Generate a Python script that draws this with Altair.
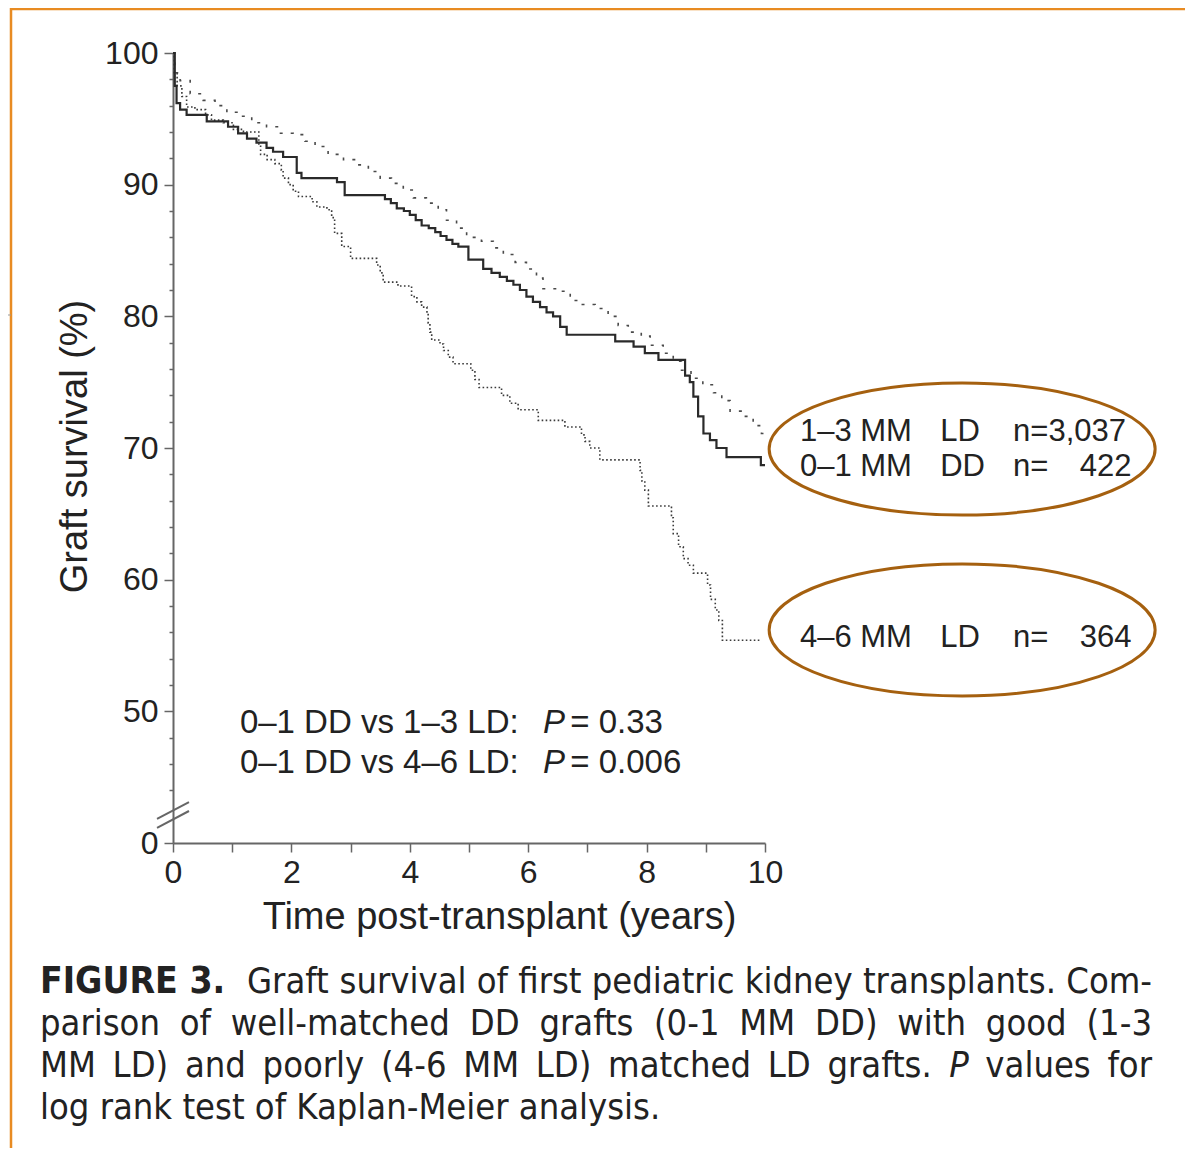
import altair as alt
import pandas as pd

# ---------------- data ----------------
# 0-1 MM DD (solid)
dd01_t = [0, 0.03, 0.06, 0.12, 0.23, 0.57, 0.93, 1.10, 1.25, 1.41,
          1.58, 1.69, 1.86, 2.09, 2.17, 2.77, 2.90, 3.58, 3.68, 3.78,
          3.90, 4.00, 4.10, 4.20, 4.32, 4.43, 4.52, 4.62, 4.72, 4.82,
          4.99, 5.24, 5.38, 5.52, 5.64, 5.75, 5.86, 5.97, 6.08, 6.20,
          6.31, 6.42, 6.54, 6.65, 7.47, 7.78, 7.97, 8.20, 8.65, 8.73,
          8.79, 8.87, 8.96, 9.07, 9.18, 9.35, 9.93, 10.0]
dd01_s = [100, 97.5, 96.2, 95.7, 95.3, 94.8, 94.4, 93.9, 93.5, 93.2,
          92.8, 92.5, 92.1, 90.9, 90.5, 90.2, 89.2, 88.9, 88.6, 88.2,
          88.0, 87.7, 87.3, 86.9, 86.7, 86.4, 86.1, 85.8, 85.5, 85.3,
          84.3, 83.6, 83.3, 83.0, 82.7, 82.4, 82.0, 81.5, 81.1, 80.7,
          80.3, 80.0, 79.2, 78.6, 78.1, 77.7, 77.2, 76.7, 75.5, 75.0,
          73.9, 72.4, 71.1, 70.6, 70.0, 69.3, 68.7, 68.7]

# 1-3 MM LD (sparse dashes)
ld13_t = [0, 0.03, 0.12, 0.29, 0.51, 0.71, 0.91, 1.13, 1.33, 1.58,
          1.78, 2.03, 2.23, 2.40, 2.62, 2.88, 3.10, 3.30, 3.50, 3.69,
          3.89, 4.06, 4.28, 4.48, 4.62, 4.79, 4.96, 5.21, 5.41, 5.58,
          5.78, 5.97, 6.14, 6.25, 6.51, 6.71, 6.90, 7.13, 7.35, 7.52,
          7.69, 7.91, 8.06, 8.28, 8.45, 8.59, 8.75, 8.95, 9.13, 9.27,
          9.41, 9.61, 9.80, 9.94, 10.0]
ld13_s = [100, 98.5, 97.9, 96.9, 96.4, 96.0, 95.5, 95.2, 94.7, 94.4,
          93.9, 93.8, 93.3, 92.9, 92.3, 91.9, 91.5, 91.0, 90.5, 90.1,
          89.6, 89.0, 88.6, 88.1, 87.3, 86.7, 86.0, 85.7, 85.2, 84.7,
          84.1, 83.6, 82.9, 82.1, 81.9, 81.2, 80.9, 80.6, 80.0, 79.3,
          78.8, 78.5, 77.8, 77.2, 76.6, 75.9, 75.3, 74.8, 74.2, 73.6,
          72.8, 72.4, 71.7, 71.1, 70.8]

# 4-6 MM LD (dense dots)
ld46_t = [0, 0.02, 0.07, 0.15, 0.23, 0.37, 0.55, 0.65, 0.85, 1.02,
          1.19, 1.45, 1.48, 1.59, 1.72, 1.83, 1.86, 1.95, 2.03, 2.12,
          2.35, 2.43, 2.60, 2.68, 2.73, 2.85, 3.00, 3.44, 3.50, 3.55,
          3.80, 4.03, 4.12, 4.20, 4.29, 4.31, 4.34, 4.37, 4.51, 4.57,
          4.65, 4.73, 5.03, 5.10, 5.17, 5.55, 5.69, 5.83, 6.17, 6.62,
          6.90, 6.96, 7.04, 7.21, 7.89, 7.92, 7.97, 8.03, 8.42, 8.45,
          8.54, 8.62, 8.70, 8.79, 9.03, 9.08, 9.16, 9.22, 9.28, 9.94]
ld46_s = [100, 98.5, 97.5, 96.7, 95.9, 95.7, 95.3, 94.9, 94.7, 94.2,
          94.0, 93.0, 92.3, 91.9, 91.6, 91.1, 90.5, 90.0, 89.5, 89.1,
          88.7, 88.3, 88.1, 87.5, 86.3, 85.3, 84.4, 83.9, 83.3, 82.6,
          82.3, 81.5, 81.1, 80.7, 80.2, 79.5, 78.8, 78.2, 77.9, 77.4,
          76.9, 76.4, 75.9, 75.2, 74.6, 74.0, 73.4, 72.9, 72.1, 71.6,
          71.0, 70.5, 70.0, 69.1, 68.3, 67.5, 66.8, 65.6, 64.7, 63.5,
          62.5, 61.6, 61.1, 60.5, 59.6, 58.5, 57.7, 56.9, 55.4, 55.4]

legend_group = ["1–3 MM", "0–1 MM", "4–6 MM"]
legend_type = ["LD", "DD", "LD"]
legend_n = ["3,037", "422", "364"]

pval_labels = ["0–1 DD vs 1–3 LD:", "0–1 DD vs 4–6 LD:"]
pval_values = ["= 0.33", "= 0.006"]

x_ticks = list(range(0, 11))
y_ticks = [40, 44, 46, 48, 50, 52, 54, 56, 58, 60, 62, 64, 66, 68, 70,
           72, 74, 76, 78, 80, 82, 84, 86, 88, 90, 92, 94, 96, 98, 100]

caption_line1 = "Graft survival of first pediatric kidney transplants. Com-"
caption_line2 = "parison of well-matched DD grafts (0-1 MM DD) with good (1-3"
caption_line3 = "MM LD) and poorly (4-6 MM LD) matched LD grafts. P values for"
caption_line4 = "log rank test of Kaplan-Meier analysis."
caption_fig = "FIGURE 3."

# ---------------- styling ----------------
FONT = "Liberation Sans"
CAPFONT = "DejaVu Sans Condensed"
INK = "#222222"
AXC = "#666666"
BROWN = "#A5600F"
ORANGE = "#E88B22"

xscale = alt.Scale(domain=[0, 10], nice=False, zero=False)
yscale = alt.Scale(domain=[40, 100], nice=False, zero=False)

X = alt.X("t:Q", scale=xscale, title="Time post-transplant (years)",
          axis=alt.Axis(values=x_ticks,
                        labelExpr="datum.value % 2 === 0 ? datum.label : ''",
                        tickSize=9, tickWidth=1.5, tickColor=AXC,
                        domainColor=AXC, domainWidth=2, grid=False,
                        labelFont=FONT, labelFontSize=32, labelColor=INK,
                        labelPadding=5, labelFlush=False,
                        titleFont=FONT, titleFontSize=38, titleFontWeight="normal",
                        titleColor=INK, titleX=326, titleY=74,
                        titleBaseline="middle", titleAlign="center"))
Y = alt.Y("s:Q", scale=yscale, title="Graft survival (%)",
          axis=alt.Axis(values=y_ticks,
                        labelExpr="datum.value % 10 === 0 ? (datum.value === 40 ? '0' : datum.label) : ''",
                        tickSize={"condition": {"test": "datum.value % 10 === 0", "value": 9}, "value": 4},
                        tickWidth=1.5, tickColor=AXC,
                        domainColor=AXC, domainWidth=2, grid=False,
                        labelFont=FONT, labelFontSize=32, labelColor=INK,
                        labelPadding=6, labelFlush=False,
                        titleFont=FONT, titleFontSize=38, titleFontWeight="normal",
                        titleColor=INK, titleX=-79, titleY=393,
                        titleBaseline="bottom", titleAlign="center"))

def curve(ts, ss, dash, width, color):
    df = pd.DataFrame({"t": ts, "s": ss})
    kw = dict(interpolate="step-after", strokeWidth=width, color=color)
    if dash:
        kw["strokeDash"] = dash
    return alt.Chart(df).mark_line(**kw).encode(x=X, y=Y)

c_dd01 = curve(dd01_t, dd01_s, None, 2.2, "#2a2a2a")
c_ld13 = curve(ld13_t, ld13_s, [3, 8], 1.6, "#4a4a4a")
c_ld46 = curve(ld46_t, ld46_s, [1.6, 2.4], 1.6, "#3a3a3a")

# axis-break marks (in data coords)
brk = pd.DataFrame({"t": [-0.27, -0.27], "s": [41.83, 41.14],
                    "t2": [0.27, 0.27], "s2": [43.11, 42.43]})
c_brk = alt.Chart(brk).mark_rule(color=AXC, strokeWidth=2).encode(
    x=X, y=Y, x2="t2:Q", y2="s2:Q")

# p-value annotation
pv_y = [49.1, 46.1]
pv_df = pd.DataFrame({"t": [1.13, 1.13], "s": pv_y, "txt": pval_labels})
pvP_df = pd.DataFrame({"t": [6.25, 6.25], "s": pv_y, "txt": ["P", "P"]})
pvV_df = pd.DataFrame({"t": [6.71, 6.71], "s": pv_y, "txt": pval_values})
tk = dict(baseline="middle", font=FONT, fontSize=33, color=INK)
c_pv = alt.Chart(pv_df).mark_text(align="left", **tk).encode(x=X, y=Y, text="txt:N")
c_pvP = alt.Chart(pvP_df).mark_text(align="left", fontStyle="italic", **tk).encode(x=X, y=Y, text="txt:N")
c_pvV = alt.Chart(pvV_df).mark_text(align="left", **tk).encode(x=X, y=Y, text="txt:N")

# legend labels inside ellipses
tl = dict(baseline="middle", font=FONT, fontSize=31, color=INK)
leg_y = [71.22, 68.56, 55.57]
lg1 = pd.DataFrame({"t": [10.59] * 3, "s": leg_y, "txt": legend_group})
lg2 = pd.DataFrame({"t": [12.96] * 3, "s": leg_y, "txt": legend_type})
# first row: "n=3,037" written tight; other rows: "n=" then right-aligned count
lg3 = pd.DataFrame({"t": [14.19] * 3, "s": leg_y,
                    "txt": ["n=" + legend_n[0], "n=", "n="]})
lg4 = pd.DataFrame({"t": [16.19] * 2, "s": leg_y[1:], "txt": legend_n[1:]})
c_lg1 = alt.Chart(lg1).mark_text(align="left", **tl).encode(x=X, y=Y, text="txt:N")
c_lg2 = alt.Chart(lg2).mark_text(align="left", **tl).encode(x=X, y=Y, text="txt:N")
c_lg3 = alt.Chart(lg3).mark_text(align="left", **tl).encode(x=X, y=Y, text="txt:N")
c_lg4 = alt.Chart(lg4).mark_text(align="right", **tl).encode(x=X, y=Y, text="txt:N")

# ellipses around legend labels
ELLIPSE = "M -1 0 A 1 0.342 0 1 1 1 0 A 1 0.342 0 1 1 -1 0 Z"
ell = pd.DataFrame({"t": [13.33, 13.33], "s": [69.92, 56.18]})
c_ell = alt.Chart(ell).mark_point(shape=ELLIPSE, size=386 * 386, filled=False,
                                  strokeWidth=3, color=BROWN, opacity=1).encode(x=X, y=Y)

# page frame (pixel offsets relative to plot origin)
one = pd.DataFrame({"a": [0]})
c_top = alt.Chart(one).mark_rule(color=ORANGE, strokeWidth=2.5).encode(
    x=alt.value(-162), x2=alt.value(1020), y=alt.value(-44))
c_left = alt.Chart(one).mark_rule(color=ORANGE, strokeWidth=2.5).encode(
    x=alt.value(-162), y=alt.value(-45), y2=alt.value(1095))
c_gray = alt.Chart(one).mark_rule(color="#999999", strokeWidth=1).encode(
    x=alt.value(-170), x2=alt.value(-162), y=alt.value(262))

# ---------------- caption (justified word layout) ----------------
# approximate DejaVu Sans advance widths (per 1000 em); condensed = 0.9x
W = {"a": 613, "b": 635, "c": 550, "d": 635, "e": 615, "f": 352, "g": 635,
     "h": 634, "i": 278, "j": 278, "k": 579, "l": 278, "m": 974, "n": 634,
     "o": 612, "p": 635, "q": 635, "r": 411, "s": 521, "t": 392, "u": 634,
     "v": 592, "w": 818, "x": 592, "y": 592, "z": 525,
     "C": 698, "D": 770, "G": 775, "K": 656, "L": 557, "M": 863, "P": 603,
     ".": 318, ",": 318, "-": 361, "(": 390, ")": 390, " ": 318}
CAP_SIZE = 36
FIG_SIZE = 37

def width(word, size):
    return sum(W.get(ch, 636) for ch in word) * 0.9 * size / 1000.0

def cap(s, x, y, align="left", weight="normal", style="normal", size=CAP_SIZE):
    return alt.Chart(pd.DataFrame({"c": [s]})).mark_text(
        x=x, y=y, align=align, baseline="middle", font=CAPFONT, fontSize=size,
        fontWeight=weight, fontStyle=style, color=INK).encode(text="c:N")

L = -133.0
R = 979.0
cy = [929, 971, 1013, 1055]

def justify(words, left, right, y, italic_words=()):
    widths = [width(w, CAP_SIZE) for w in words]
    gap = (right - left - sum(widths)) / (len(words) - 1)
    out = []
    x = left
    for w, wd in zip(words, widths):
        out.append(cap(w, x, y, style="italic" if w in italic_words else "normal"))
        x += wd + gap
    return out

fig_w = 188.0
caps = [cap(caption_fig, L, cy[0], weight="bold", size=FIG_SIZE)]
caps += justify(caption_line1.split(" "), L + fig_w + 19, R, cy[0])
caps += justify(caption_line2.split(" "), L, R, cy[1])
caps += justify(caption_line3.split(" "), L, R, cy[2], italic_words=("P",))
caps += [cap(caption_line4, L, cy[3])]

chart = alt.layer(
    c_top, c_left, c_gray,
    c_ell, c_brk,
    c_ld46, c_ld13, c_dd01,
    c_pv, c_pvP, c_pvV,
    c_lg1, c_lg2, c_lg3, c_lg4,
    *caps,
).properties(
    width=592, height=790,
    autosize=alt.AutoSizeParams(type="none"),
    padding={"left": 165, "top": 45, "right": 420, "bottom": 305},
).configure_view(stroke=None)

chart.save("out.html", embed_options={"renderer": "svg", "actions": False})
